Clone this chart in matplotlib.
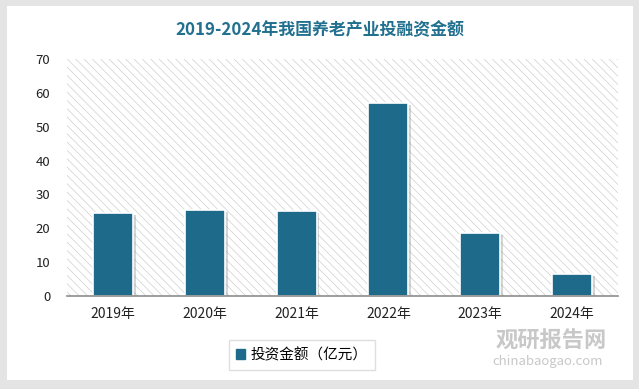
import numpy as np
import matplotlib
matplotlib.use("Agg")
import matplotlib.pyplot as plt
import matplotlib.patches as mpatches
import matplotlib.patheffects as pe

plt.rcParams["font.family"] = ["Noto Sans CJK SC", "DejaVu Sans"]
plt.rcParams["hatch.color"] = "#cacaca"
plt.rcParams["hatch.linewidth"] = 0.45

# data
years = ["2019年", "2020年", "2021年", "2022年", "2023年", "2024年"]
invest = [24.6, 25.5, 25.2, 57.1, 18.7, 6.6]
y_ticks = [0, 10, 20, 30, 40, 50, 60, 70]

BAR = "#1d6a8b"
TITLE = "#22708f"

fig = plt.figure(figsize=(6.39, 3.89), dpi=100)
fig.patch.set_facecolor("#e4e4e4")

# white card
card = mpatches.Rectangle((7 / 639, 9 / 389), 626 / 639, 374 / 389,
                          transform=fig.transFigure,
                          facecolor="white", edgecolor="none", zorder=-5)
fig.patches.append(card)

ax = fig.add_axes([67 / 639, 1 - 296 / 389, 551 / 639, 237 / 389])
ax.set_zorder(2)
ax.set_facecolor("white")
# hatch density: 6 lines/inch per backslash -> ~4 px spacing
bg = mpatches.Rectangle((0, 0), 1, 1, transform=ax.transAxes, facecolor="white",
                        edgecolor="#cacaca", hatch="\\" * 4, linewidth=0, zorder=0)
ax.add_patch(bg)

x = np.arange(len(years))
bars = ax.bar(x, invest, width=0.435, color=BAR, edgecolor="white", linewidth=1.2,
              zorder=3)
for b in bars:
    b.set_path_effects([pe.SimplePatchShadow(offset=(2, -2), shadow_rgbFace="#888888",
                                             alpha=0.35), pe.Normal()])

ax.set_xlim(-0.5, len(years) - 0.5)
ax.set_ylim(0, 70)
ax.set_yticks(y_ticks)
ax.set_yticklabels([str(v) for v in y_ticks], fontsize=9.5, color="#222222")
ax.set_xticks(x)
ax.set_xticklabels(years, fontsize=10, color="#222222")
ax.tick_params(axis="both", length=0)
ax.tick_params(axis="y", pad=12)
ax.tick_params(axis="x", pad=8)
for side in ["top", "right", "left"]:
    ax.spines[side].set_visible(False)
ax.spines["bottom"].set_color("#8c8c8c")
ax.spines["bottom"].set_linewidth(1.2)
ax.spines["bottom"].set_zorder(4)

fig.text(320 / 639, 1 - 30 / 389, "2019-2024年我国养老产业投融资金额",
         ha="center", va="center", fontsize=12.2, fontweight="bold", color=TITLE)

handle = mpatches.Patch(color=BAR, label="投资金额（亿元）")
leg = fig.legend(handles=[handle], loc="center", bbox_to_anchor=(302 / 639, 1 - 355 / 389),
                 fontsize=10.5, frameon=True, fancybox=False, edgecolor="#d8d8d8",
                 handlelength=0.6, handleheight=0.6, handletextpad=0.4,
                 borderpad=0.5, borderaxespad=0)
leg.get_frame().set_linewidth(1.0)

# watermark
fig.text(551 / 639, 1 - 341 / 389, "观研报告网", ha="center", va="center",
         fontsize=16, fontweight="bold", color="#c8c8c8")
fig.text(548 / 639, 1 - 361 / 389, "chinabaogao.com", ha="center", va="center",
         fontsize=9.5, color="#c8c8c8")

fig.savefig("out.png", dpi=100, facecolor=fig.get_facecolor())
